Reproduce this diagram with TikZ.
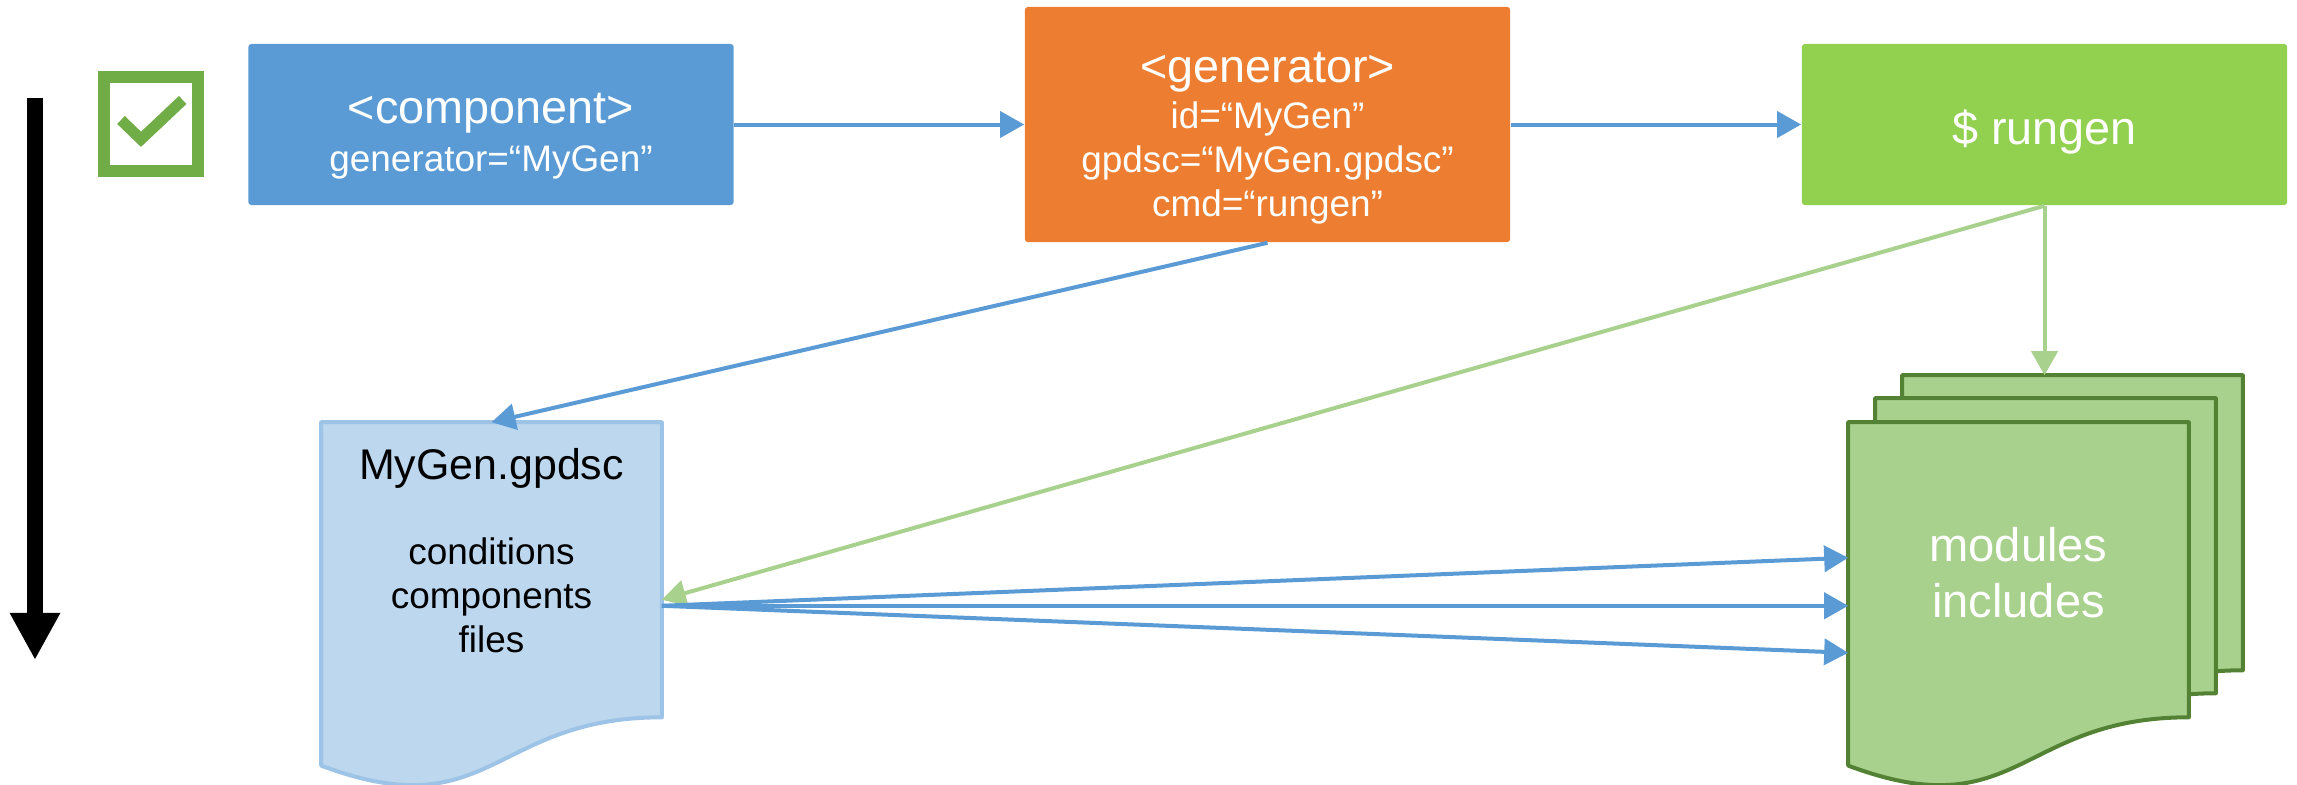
\documentclass[tikz,border=0pt]{standalone}
\usepackage{fontspec}
\setmainfont{Liberation Sans}
\usetikzlibrary{arrows.meta}

\definecolor{compblue}{HTML}{5B9BD5}
\definecolor{genorange}{HTML}{ED7D31}
\definecolor{rungreen}{HTML}{92D050}
\definecolor{docblue}{HTML}{BDD7EE}
\definecolor{docedge}{HTML}{9DC3E6}
\definecolor{modgreen}{HTML}{A9D18E}
\definecolor{modedge}{HTML}{548235}
\definecolor{checkgreen}{HTML}{70AD47}

\newcommand{\ttl}{\fontsize{13.3pt}{15.7pt}\selectfont}
\newcommand{\sml}{\fontsize{10.5pt}{12.5pt}\selectfont}
\newcommand{\docshape}[2]{\draw[#2] (#1.north west) -- (#1.north east) -- (#1.south east)
  .. controls (#1.south) and ([yshift=-1.118cm]#1.south) .. ([yshift=-0.483cm]#1.south west) -- cycle;}

\begin{document}
\begin{tikzpicture}[x=0.01cm, y=-0.01cm,
    box/.style={rectangle, rounded corners=0.03cm, minimum width=4.85cm, inner sep=0pt, text=white, align=center, font=\sml},
    docnode/.style={rectangle, minimum width=3.39cm, minimum height=2.935cm, inner sep=0pt},
    doctext/.style={align=center, inner sep=0pt},
    blueline/.style={draw=compblue, line width=0.04cm, -{Triangle[length=0.24cm,width=0.26cm]}},
    greenline/.style={draw=modgreen, line width=0.04cm, -{Triangle[length=0.24cm,width=0.26cm]}},
    pagebox/.style={fill=modgreen, draw=modedge, line width=0.04cm, line join=round}]

            \useasboundingbox (0,0) rectangle (2297,784);

            % Nodes
            \node[box, fill=compblue, minimum height=1.61cm] (comp) at (491,124.5) {\rule{0pt}{0.54cm}{\ttl <component>}\\[0.04cm] generator=“MyGen”};
            \node[box, fill=genorange, minimum height=2.35cm] (gen) at (1267.5,124.5) {\rule{0pt}{0.58cm}{\ttl <generator>}\\[0.02cm] id=“MyGen”\\ gpdsc=“MyGen.gpdsc”\\ cmd=“rungen”};
            \node[box, fill=rungreen, minimum height=1.61cm, font=\ttl, text height=0.49cm, text depth=0.1cm] (run) at (2044.5,124.5) {\$ rungen};

            \node[rectangle, draw=checkgreen, line width=0.12cm, minimum size=0.94cm, inner sep=0pt] (chk) at (151,124) {};
            \draw[checkgreen, line width=0.11cm] ([shift={(-30,-4)}]chk.center) -- ([shift={(-10,15.3)}]chk.center) -- ([shift={(31.7,-24)}]chk.center);

            \node[docnode] (gpdsc) at (491.5,569.75) {};
            \docshape{gpdsc}{fill=docblue, draw=docedge, line width=0.04cm, line join=round}
            \node[doctext, font=\sml, anchor=north] (gpdsctxt) at (491.5,448) {{\fontsize{12.2pt}{12.5pt}\selectfont MyGen.gpdsc}\\[0.41cm] conditions\\ components\\ files};

            \node[docnode] (modback) at (2072.5,522.75) {};
            \docshape{modback}{pagebox}
            \node[docnode] (modmid) at (2045.5,545.75) {};
            \docshape{modmid}{pagebox}
            \node[docnode] (modfront) at (2018.5,569.75) {};
            \docshape{modfront}{pagebox}
            \node[doctext, text=white, font=\fontsize{13.4pt}{15.9pt}\selectfont] (modtxt) at ([yshift=-0.03cm]modfront.center) {modules\\ includes};

            % Time line
            \coordinate (ttop) at (35,98);
            \coordinate (tbot) at (35,660);
            \draw[line width=0.16cm, -{Triangle[length=0.47cm,width=0.47cm]}] (ttop) -- (tbot);

            % Directed edges
            \draw[blueline] (comp) -- (gen);
            \draw[blueline] (gen) -- (run);
            \draw[blueline] (gen.south) -- (gpdsc.north);
            \draw[greenline] (run.south) -- ([yshift=-0.3cm]gpdsc.east);
            \draw[greenline] (run.south) -- (run.south |- modback.north);
            \coordinate (gout) at ([yshift=-0.36cm]gpdsc.east);
            \draw[blueline] (gout) -- ([yshift=0.12cm]modfront.west);
            \draw[blueline] (gout) -- ([yshift=-0.36cm]modfront.west);
            \draw[blueline] (gout) -- ([yshift=-0.83cm]modfront.west);

\end{tikzpicture}
\end{document}
